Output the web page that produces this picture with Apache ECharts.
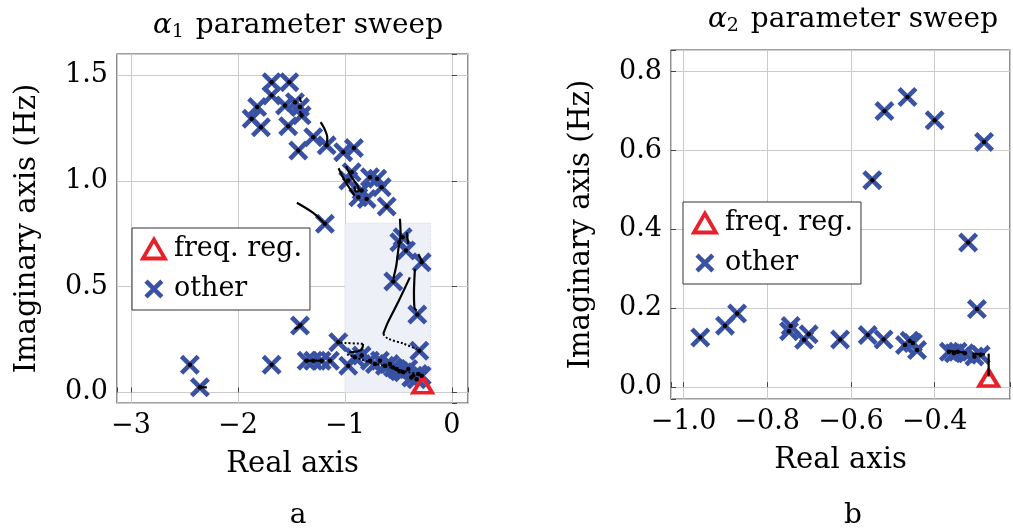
<!DOCTYPE html>
<html>
<head>
<meta charset="utf-8">
<script src="https://cdn.jsdelivr.net/npm/echarts@6/dist/echarts.min.js"></script>
<style>
  html, body { margin: 0; padding: 0; background: #fff; }
  #chart { width: 1013px; height: 529px; }
</style>
</head>
<body>
<div id="chart"></div>
<script>
// tick labels
const xTicksA = [-3, -2, -1, 0];
const yTicksA = [0, 0.5, 1.0, 1.5];
const xTicksB = [-1.0, -0.8, -0.6, -0.4];
const yTicksB = [0, 0.2, 0.4, 0.6, 0.8];

// alpha1 sweep: poles ("other") and frequency regulator pole
const otherA = [
  [-1.685, 1.467], [-1.52, 1.467], [-1.685, 1.404], [-1.82, 1.349], [-1.872, 1.294],
  [-1.785, 1.254], [-1.56, 1.357], [-1.467, 1.372], [-1.42, 1.349], [-1.405, 1.31],
  [-1.53, 1.259], [-1.296, 1.207], [-1.171, 1.168], [-1.436, 1.144], [-1.016, 1.136],
  [-0.916, 1.155], [-0.937, 1.041], [-0.969, 1.002], [-0.766, 1.017], [-0.698, 1.01],
  [-0.657, 0.97], [-0.844, 0.955], [-0.875, 0.923], [-0.797, 0.915], [-0.61, 0.879],
  [-1.187, 0.797], [-0.492, 0.71], [-0.548, 0.525], [-0.43, 0.671], [-0.461, 0.734],
  [-0.283, 0.615], [-0.324, 0.368], [-1.42, 0.316], [-1.062, 0.237], [-0.305, 0.197],
  [-1.358, 0.15], [-1.296, 0.15], [-1.218, 0.15], [-1.14, 0.15], [-0.969, 0.126],
  [-0.907, 0.166], [-0.844, 0.174], [-0.766, 0.15], [-0.72, 0.134], [-0.673, 0.15],
  [-0.626, 0.126], [-0.58, 0.134], [-0.517, 0.111], [-0.455, 0.095], [-0.408, 0.111],
  [-0.361, 0.079], [-0.315, 0.087], [-0.283, 0.079], [-0.55, 0.118], [-0.49, 0.1],
  [-0.38, 0.07], [-0.33, 0.062], [-2.449, 0.131], [-2.355, 0.024], [-1.685, 0.131]
];
const freqA = [[-0.274, 0.036]];
const shadeA = [[-1.0, 0], [-0.2, 0.8]];

// alpha1 sweep: root-locus traces
const solidA = [
  [[-1.425, 1.395], [-1.41, 1.372]],
  [[-1.42, 1.33], [-1.40, 1.30]],
  [[-1.227, 1.278], [-1.19, 1.245], [-1.165, 1.205], [-1.168, 1.17]],
  [[-1.06, 1.06], [-1.0, 1.0], [-0.95, 0.96], [-0.91, 0.93]],
  [[-0.99, 1.07], [-0.94, 1.02], [-0.88, 0.975], [-0.87, 0.955], [-0.9, 0.95], [-0.91, 0.975]],
  [[-1.449, 0.897], [-1.3, 0.85], [-1.187, 0.797]],
  [[-0.486, 0.821], [-0.48, 0.75], [-0.50, 0.68], [-0.52, 0.6], [-0.548, 0.537]],
  [[-0.393, 0.544], [-0.50, 0.43], [-0.60, 0.33], [-0.642, 0.276]],
  [[-0.346, 0.584], [-0.355, 0.47], [-0.35, 0.40], [-0.33, 0.387]],
  [[-0.315, 0.655], [-0.274, 0.615]],
  [[-0.423, 0.757], [-0.408, 0.702]],
  [[-0.83, 0.23], [-0.85, 0.20], [-0.96, 0.19]],
  [[-1.38, 0.15], [-1.2, 0.15]],
  [[-2.36, 0.024], [-2.29, 0.024]],
  [[-1.47, 0.30], [-1.43, 0.31], [-1.40, 0.325]]
];
const dottedA = [
  [[-0.642, 0.276], [-0.60, 0.255], [-0.45, 0.23], [-0.33, 0.205]],
  [[-1.04, 0.235], [-0.83, 0.23]],
  [[-0.98, 0.18], [-0.75, 0.14], [-0.55, 0.115], [-0.4, 0.095], [-0.29, 0.085]]
];

// alpha2 sweep
const otherB = [
  [-0.96, 0.126], [-0.901, 0.156], [-0.872, 0.187], [-0.744, 0.155], [-0.748, 0.142],
  [-0.712, 0.12], [-0.701, 0.134], [-0.626, 0.121], [-0.56, 0.132], [-0.522, 0.121],
  [-0.471, 0.107], [-0.46, 0.118], [-0.452, 0.112], [-0.442, 0.094], [-0.366, 0.09],
  [-0.354, 0.086], [-0.345, 0.09], [-0.328, 0.086], [-0.305, 0.078], [-0.29, 0.082],
  [-0.549, 0.525], [-0.52, 0.70], [-0.465, 0.736], [-0.4, 0.677], [-0.282, 0.622],
  [-0.32, 0.367], [-0.299, 0.198]
];
const freqB = [[-0.271, 0.023]];
const solidB = [
  [[-0.271, 0.085], [-0.271, 0.027]],
  [[-0.37, 0.092], [-0.33, 0.088]],
  [[-0.31, 0.085], [-0.28, 0.083]]
];

const FONT = 'DejaVu Serif';
const BLUE = '#3a52a3';
const RED = '#e8202a';
const X_PATH = 'path://M0,3.3L3.3,0L10,6.7L16.7,0L20,3.3L13.3,10L20,16.7L16.7,20L10,13.3L3.3,20L0,16.7L6.7,10Z';

const fmtInt = v => (v < 0 ? '\u2212' : '') + Math.abs(v);
const fmtDec = v => (v < 0 ? '\u2212' : '') + Math.abs(v).toFixed(1);

// axis with fixed range, ticks only at the listed values
function axis(gridIndex, min, max, step, ticks, fmt, name, nameGap, isY) {
  return {
    type: 'value', gridIndex, min, max, minInterval: step, maxInterval: step,
    name, nameLocation: 'middle', nameGap,
    nameTextStyle: { fontFamily: FONT, fontSize: 29, color: '#000' },
    axisLine: { show: false },
    axisTick: { show: true, inside: true, length: 5, lineStyle: { color: '#444', width: 1 } },
    axisLabel: {
      showMinLabel: true, showMaxLabel: true,
      fontFamily: FONT, fontSize: 27, color: '#000', margin: isY ? 9 : 9,
      formatter: v => {
        const t = ticks.find(k => Math.abs(k - v) < 1e-6);
        return t === undefined ? '' : fmt(t);
      }
    },
    splitLine: { show: true, lineStyle: { color: '#cbcbcb', width: 1 } }
  };
}

function traces(segs, gi, dotted) {
  return segs.map(seg => ({
    type: 'line', xAxisIndex: gi, yAxisIndex: gi, data: seg,
    showSymbol: false, symbol: 'none', smooth: 0.3, silent: true, z: 5,
    lineStyle: { color: '#000', width: dotted ? 2 : 2.2, type: dotted ? 'dotted' : 'solid', opacity: 1 }
  }));
}

function poles(gi, other, freq) {
  return [
    { type: 'scatter', name: 'other', xAxisIndex: gi, yAxisIndex: gi, data: other,
      symbol: X_PATH, symbolSize: 20, itemStyle: { color: BLUE, opacity: 1 }, z: 3 },
    { type: 'scatter', name: 'freq. reg.', xAxisIndex: gi, yAxisIndex: gi, data: freq,
      symbol: 'triangle', symbolSize: [19, 16],
      itemStyle: { color: 'rgba(255,255,255,0)', borderColor: RED, borderWidth: 3.8, opacity: 1 }, z: 4 },
    { type: 'scatter', xAxisIndex: gi, yAxisIndex: gi, data: other, silent: true,
      symbol: 'circle', symbolSize: 4.5, itemStyle: { color: '#000', opacity: 1 }, z: 6 }
  ];
}

const legendItems = [
  { name: 'freq. reg.', icon: 'triangle',
    itemStyle: { color: '#fff', borderColor: RED, borderWidth: 3.8, opacity: 1 } },
  { name: 'other', icon: X_PATH, itemStyle: { color: BLUE, opacity: 1 } }
];

function legend(left, top) {
  return {
    left, top, orient: 'vertical', data: legendItems,
    itemWidth: 22, itemHeight: 19, itemGap: 6,
    padding: [4, 8, 4, 9],
    backgroundColor: '#fff', borderColor: '#333', borderWidth: 1, borderRadius: 0,
    textStyle: { fontFamily: FONT, fontSize: 27, color: '#000', lineHeight: 34, padding: [0, 0, 0, 4] },
    selectedMode: false
  };
}

function title(text, left, top) {
  return {
    text, left, top, textAlign: 'center',
    textStyle: {
      fontFamily: FONT, fontSize: 28, fontWeight: 'normal', color: '#000',
      rich: {
        a: { fontFamily: FONT, fontSize: 28, fontStyle: 'italic', color: '#000' },
        s: { fontFamily: FONT, fontSize: 19, color: '#000', padding: [14, 3, 0, 0] }
      }
    }
  };
}

const chart = echarts.init(document.getElementById('chart'), null, { renderer: 'canvas' });

chart.setOption({
  animation: false,
  backgroundColor: '#fff',
  title: [
    title('{a|α}{s|1} parameter sweep', 293, 4),
    title('{a|α}{s|2} parameter sweep', 848, -2),
    title('a', 293, 497),
    title('b', 848, 497)
  ],
  legend: [legend(132, 228), legend(683, 202)],
  grid: [
    { left: 117, top: 54, width: 351, height: 349, show: true,
      borderColor: '#444', borderWidth: 1.2, backgroundColor: 'transparent' },
    { left: 671, top: 50, width: 354, height: 349, show: true,
      borderColor: '#444', borderWidth: 1.2, backgroundColor: 'transparent' }
  ],
  xAxis: [
    axis(0, -3.13, 0.15, 1, xTicksA, fmtInt, 'Real axis', 47, false),
    axis(1, -1.03, -0.22, 0.2, xTicksB, fmtDec, 'Real axis', 47, false)
  ],
  yAxis: [
    axis(0, -0.05, 1.6, 0.5, yTicksA, fmtDec, 'Imaginary axis (Hz)', 75, true),
    axis(1, -0.03, 0.855, 0.2, yTicksB, fmtDec, 'Imaginary axis (Hz)', 75, true)
  ],
  series: [
    { type: 'scatter', xAxisIndex: 0, yAxisIndex: 0, data: [], silent: true, z: 1,
      markArea: {
        silent: true,
        itemStyle: { color: '#eef0f7', borderColor: '#d3d7e8', borderWidth: 1, borderType: 'dotted', opacity: 1 },
        data: [[{ coord: shadeA[0] }, { coord: shadeA[1] }]]
      } },
    ...poles(0, otherA, freqA),
    ...traces(solidA, 0, false),
    ...traces(dottedA, 0, true),
    ...poles(1, otherB, freqB),
    ...traces(solidB, 1, false)
  ]
});
</script>
</body>
</html>
